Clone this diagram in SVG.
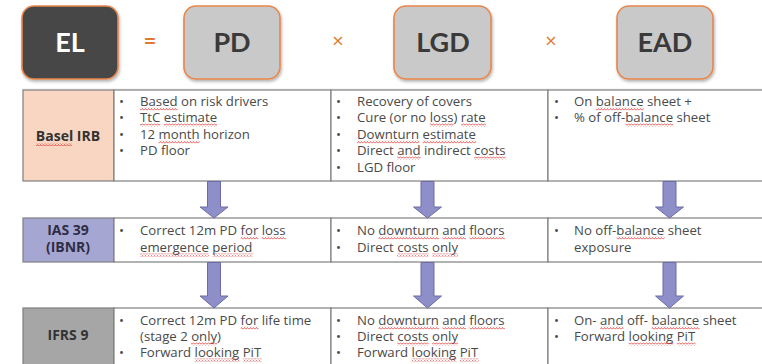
<svg xmlns="http://www.w3.org/2000/svg" width="762" height="364" viewBox="0 0 762 364">
  <defs>
    <filter id="shadow" x="-20%" y="-20%" width="140%" height="150%">
      <feDropShadow dx="1" dy="2" stdDeviation="1.5" flood-color="#000" flood-opacity="0.3"/>
    </filter>
    <!-- red wavy spell-check underline -->
    <pattern id="wave" width="3" height="3" patternUnits="userSpaceOnUse">
      <path d="M0 2.5 L1.5 0.5 L3 2.5" fill="none" stroke="#e03a3a" stroke-width="0.8"/>
    </pattern>
  </defs>
  <style>
    .term { stroke: #e8864a; stroke-width: 1.6; }
    .term-light { fill: #c9c9c9; }
    .term-dark { fill: #474747; }
    .big { font-family: Lato, "Open Sans", sans-serif; font-weight: 700; font-size: 27px; text-anchor: middle; }
    .op { font-family: "Open Sans", sans-serif; font-size: 20px; fill: #e07a30; text-anchor: middle; }
    .cell { fill: #ffffff; stroke: #7f7f7f; stroke-width: 1.2; }
    .lbl { font-family: "Open Sans", sans-serif; font-weight: 700; font-size: 14px; fill: #333333; text-anchor: middle; }
    .t { font-family: "Open Sans", sans-serif; font-size: 13.2px; fill: #4a4a4a; }
    .sq { fill: url(#wave); }
    .arrow { fill: #8e8ec9; stroke: #6b6ba8; stroke-width: 1; }
  </style>

  <!-- formula row: EL = PD x LGD x EAD -->
  <g id="el">
    <rect class="term term-dark" x="22" y="6" width="96" height="73" rx="12" filter="url(#shadow)"/>
    <text class="big" x="70" y="52" fill="#ffffff">EL</text>
  </g>
  <text class="op" x="150" y="48" font-weight="700" font-size="22">=</text>
  <g id="pd">
    <rect class="term term-light" x="184" y="6" width="96" height="73" rx="12" filter="url(#shadow)"/>
    <text class="big" x="232" y="52" fill="#3a3a3a">PD</text>
  </g>
  <text class="op" x="338" y="48" font-size="16">×</text>
  <g id="lgd">
    <rect class="term term-light" x="394" y="6" width="97" height="73" rx="12" filter="url(#shadow)"/>
    <text class="big" x="443" y="52" fill="#3a3a3a">LGD</text>
  </g>
  <text class="op" x="551" y="48" font-size="16">×</text>
  <g id="ead">
    <rect class="term term-light" x="617" y="6" width="96" height="73" rx="12" filter="url(#shadow)"/>
    <text class="big" x="665" y="52" fill="#3a3a3a">EAD</text>
  </g>
  <line x1="22" y1="89" x2="762" y2="89" stroke="#ececec" stroke-width="1"/>

  <!-- Basel IRB row -->
  <g id="basel">
    <rect class="cell" x="23" y="90" width="91" height="91" style="fill:#f8d6c1"/>
    <rect class="cell" x="114" y="90" width="217" height="91"/>
    <rect class="cell" x="331" y="90" width="217" height="91"/>
    <rect class="cell" x="548" y="90" width="216" height="91"/>
    <text class="lbl" x="68" y="141">Basel IRB</text>
    <g class="t">
      <text x="119" y="106">•</text><text x="140" y="106">Based on risk drivers</text>
      <text x="119" y="122">•</text><text x="140" y="122">TtC estimate</text>
      <text x="119" y="139">•</text><text x="140" y="139">12 month horizon</text>
      <text x="119" y="155">•</text><text x="140" y="155">PD floor</text>

      <text x="336" y="106">•</text><text x="357" y="106">Recovery of covers</text>
      <text x="336" y="122">•</text><text x="357" y="122">Cure (or no loss) rate</text>
      <text x="336" y="139">•</text><text x="357" y="139">Downturn estimate</text>
      <text x="336" y="155">•</text><text x="357" y="155">Direct and indirect costs</text>
      <text x="336" y="172">•</text><text x="357" y="172">LGD floor</text>

      <text x="554" y="106">•</text><text x="574" y="106">On balance sheet +</text>
      <text x="554" y="122">•</text><text x="574" y="122">% of off-balance sheet</text>
    </g>
    <g class="sq">
      <rect x="36" y="143" width="36" height="3"/>
      <rect x="140" y="107.5" width="37.7" height="3"/>
      <rect x="140" y="123.5" width="20.4" height="3"/>
      <rect x="163.8" y="123.5" width="53.4" height="3"/>
      <rect x="158.5" y="140.5" width="41.1" height="3"/>
      <rect x="429.8" y="123.5" width="23.9" height="3"/>
      <rect x="461.1" y="123.5" width="24.8" height="3"/>
      <rect x="357" y="140.5" width="62.2" height="3"/>
      <rect x="422.6" y="140.5" width="53.4" height="3"/>
      <rect x="397.1" y="156.5" width="23.5" height="3"/>
      <rect x="474.1" y="156.5" width="31.5" height="3"/>
      <rect x="595.8" y="107.5" width="47.9" height="3"/>
      <rect x="625.4" y="123.5" width="47.9" height="3"/>
    </g>
  </g>

  <!-- IAS 39 row -->
  <g id="ias39">
    <rect class="cell" x="23" y="218" width="91" height="44" style="fill:#a6a6d3"/>
    <rect class="cell" x="114" y="218" width="217" height="44"/>
    <rect class="cell" x="331" y="218" width="217" height="44"/>
    <rect class="cell" x="548" y="218" width="216" height="44"/>
    <text class="lbl" x="68" y="235" style="fill:#2e2e44">IAS 39</text>
    <text class="lbl" x="68" y="252" style="fill:#2e2e44">(IBNR)</text>
    <g class="t">
      <text x="119" y="235">•</text><text x="140" y="235">Correct 12m PD for loss</text>
      <text x="140" y="252">emergence period</text>

      <text x="336" y="235">•</text><text x="357" y="235">No downturn and floors</text>
      <text x="336" y="252">•</text><text x="357" y="252">Direct costs only</text>

      <text x="554" y="235">•</text><text x="574" y="235">No off-balance sheet</text>
      <text x="574" y="252">exposure</text>
    </g>
    <g class="sq">
      <rect x="240.7" y="236.5" width="17.8" height="3"/>
      <rect x="262" y="236.5" width="23.9" height="3"/>
      <rect x="140" y="253.5" width="68.9" height="3"/>
      <rect x="212.3" y="253.5" width="40.3" height="3"/>
      <rect x="378.4" y="236.5" width="60.7" height="3"/>
      <rect x="442.5" y="236.5" width="23.5" height="3"/>
      <rect x="469.5" y="236.5" width="35.4" height="3"/>
      <rect x="397.1" y="253.5" width="31.5" height="3"/>
      <rect x="432.1" y="253.5" width="26" height="3"/>
      <rect x="616.6" y="236.5" width="47.9" height="3"/>
    </g>
  </g>

  <!-- IFRS 9 row -->
  <g id="ifrs9">
    <rect class="cell" x="23" y="308" width="91" height="60" style="fill:#a6a6a6"/>
    <rect class="cell" x="114" y="308" width="217" height="60"/>
    <rect class="cell" x="331" y="308" width="217" height="60"/>
    <rect class="cell" x="548" y="308" width="216" height="60"/>
    <text class="lbl" x="68" y="340">IFRS 9</text>
    <g class="t">
      <text x="119" y="325">•</text><text x="140" y="325">Correct 12m PD for life time</text>
      <text x="140" y="341">(stage 2 only)</text>
      <text x="119" y="357">•</text><text x="140" y="357">Forward looking PiT</text>

      <text x="336" y="325">•</text><text x="357" y="325">No downturn and floors</text>
      <text x="336" y="341">•</text><text x="357" y="341">Direct costs only</text>
      <text x="336" y="357">•</text><text x="357" y="357">Forward looking PiT</text>

      <text x="554" y="325">•</text><text x="574" y="325">On- and off- balance sheet</text>
      <text x="554" y="341">•</text><text x="574" y="341">Forward looking PiT</text>
    </g>
    <g class="sq">
      <rect x="240.7" y="326.5" width="17.8" height="3"/>
      <rect x="191.2" y="342.5" width="26" height="3"/>
      <rect x="194.6" y="358.5" width="44.9" height="3"/>
      <rect x="242.9" y="358.5" width="18.7" height="3"/>
      <rect x="378.4" y="326.5" width="60.7" height="3"/>
      <rect x="442.5" y="326.5" width="23.5" height="3"/>
      <rect x="469.5" y="326.5" width="35.4" height="3"/>
      <rect x="397.1" y="342.5" width="31.5" height="3"/>
      <rect x="432.1" y="342.5" width="26" height="3"/>
      <rect x="411.6" y="358.5" width="44.9" height="3"/>
      <rect x="459.9" y="358.5" width="18.7" height="3"/>
      <rect x="600.1" y="326.5" width="23.5" height="3"/>
      <rect x="651.6" y="326.5" width="47.9" height="3"/>
      <rect x="628.6" y="342.5" width="44.9" height="3"/>
      <rect x="676.9" y="342.5" width="18.7" height="3"/>
    </g>
  </g>

  <!-- block arrows between the rows -->
  <g id="connectors">
    <path class="arrow" d="M207.5 181.5 H220.5 V207 H228 L214 218 L200 207 H207.5 Z"/>
    <path class="arrow" d="M421 181.5 H434 V207 H441.5 L427.5 218 L413.5 207 H421 Z"/>
    <path class="arrow" d="M663 181.5 H676 V207 H683.5 L669.5 218 L655.5 207 H663 Z"/>
    <path class="arrow" d="M207.5 262.5 H220.5 V296 H228 L214 308 L200 296 H207.5 Z"/>
    <path class="arrow" d="M421 262.5 H434 V296 H441.5 L427.5 308 L413.5 296 H421 Z"/>
    <path class="arrow" d="M663 262.5 H676 V296 H683.5 L669.5 308 L655.5 296 H663 Z"/>
  </g>
</svg>
